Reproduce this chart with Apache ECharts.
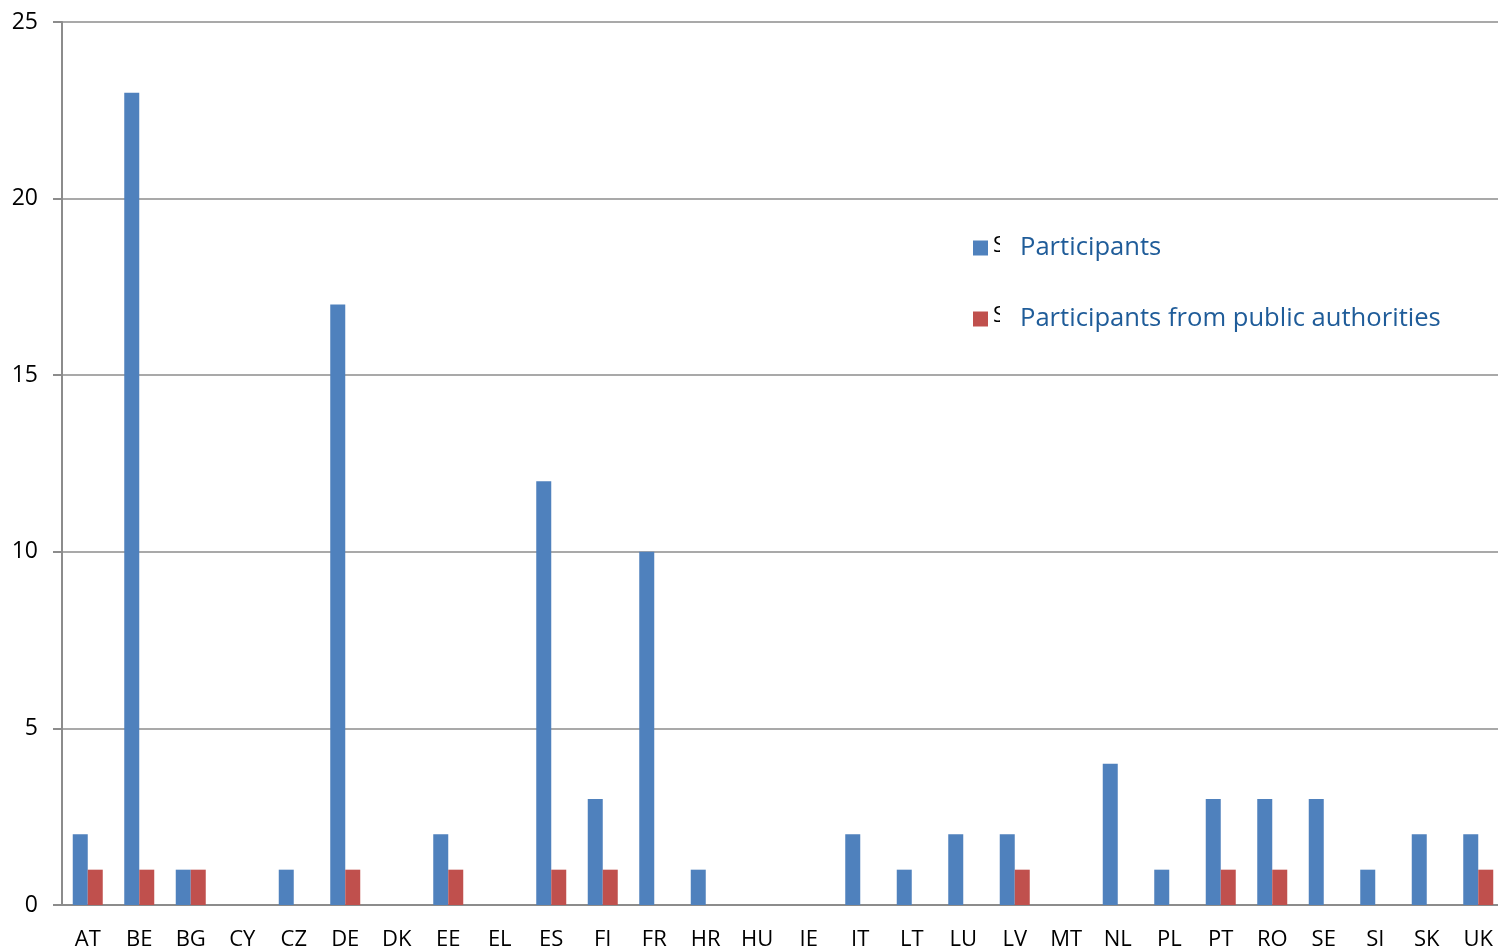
<!DOCTYPE html>
<html>
<head>
<meta charset="utf-8">
<script src="https://cdn.jsdelivr.net/npm/echarts@6/dist/echarts.min.js"></script>
<style>html,body{margin:0;padding:0;background:#fff;}#c{width:1498px;height:952px;}</style>
</head>
<body>
<div id="c"></div>
<script>
const categories = ['AT','BE','BG','CY','CZ','DE','DK','EE','EL','ES','FI','FR','HR','HU','IE','IT','LT','LU','LV','MT','NL','PL','PT','RO','SE','SI','SK','UK'];
const participants = [2,23,1,0,1,17,0,2,0,12,3,10,1,0,0,2,1,2,2,0,4,1,3,3,3,1,2,2];
const publicAuthorities = [1,1,1,0,0,1,0,1,0,1,1,0,0,0,0,0,0,0,1,0,0,0,1,1,0,0,0,1];
const yTicks = [0,5,10,15,20,25];
const seriesNames = ['Participants','Participants from public authorities'];

const font = "'Open Sans', 'Liberation Sans', sans-serif";
const chart = echarts.init(document.getElementById('c'));
chart.setOption({
  animation: false,
  backgroundColor: '#ffffff',
  grid: { left: 62, top: 22, right: -6, bottom: 47, containLabel: false, outerBoundsMode: 'none' },
  legend: {
    orient: 'vertical',
    left: 968,
    top: 230,
    itemWidth: 15,
    itemHeight: 15,
    itemGap: 45,
    icon: 'rect',
    data: seriesNames,
    textStyle: { color: '#1F5C99', fontSize: 25.6, fontFamily: font, padding: [0,0,0,27] }
  },
  xAxis: {
    type: 'category',
    data: categories,
    axisLine: { lineStyle: { color: '#8c8c8c', width: 2 } },
    axisTick: { alignWithLabel: false, interval: 0, length: 8, lineStyle: { color: '#8c8c8c', width: 2 } },
    axisLabel: { color: '#000', fontSize: 22, fontFamily: font, margin: 24, interval: 0 }
  },
  yAxis: {
    type: 'value',
    min: yTicks[0],
    max: yTicks[yTicks.length - 1],
    interval: 5,
    axisLine: { show: true, lineStyle: { color: '#8c8c8c', width: 2 } },
    axisTick: { show: true, length: 9, lineStyle: { color: '#8c8c8c', width: 2 } },
    axisLabel: { color: '#000', fontSize: 23, fontFamily: font, margin: 24 },
    splitLine: { lineStyle: { color: '#8c8c8c', width: 1.5 } }
  },
  series: [
    { name: seriesNames[0], type: 'bar', data: participants, barWidth: 15, barGap: '0%', itemStyle: { color: '#4F81BD' } },
    { name: seriesNames[1], type: 'bar', data: publicAuthorities, barWidth: 15, barGap: '0%', itemStyle: { color: '#C0504D' } }
  ],
  graphic: [
    { type: 'group', left: 993, top: 235, children: [
      { type: 'text', style: { text: 'S', font: "22px " + font, fill: '#000' }, clipPath: { type: 'rect', shape: { x: 0, y: 0, width: 7, height: 40 } } }
    ]},
    { type: 'group', left: 993, top: 305, children: [
      { type: 'text', style: { text: 'S', font: "22px " + font, fill: '#000' }, clipPath: { type: 'rect', shape: { x: 0, y: 0, width: 7, height: 40 } } }
    ]}
  ]
});
</script>
</body>
</html>
